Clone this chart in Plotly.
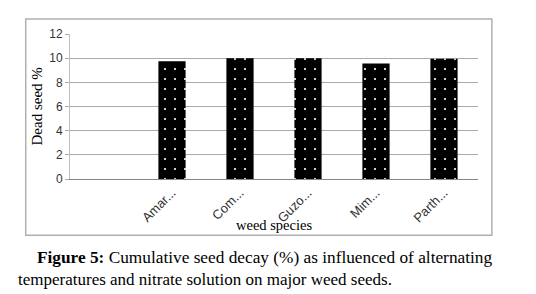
import plotly.graph_objects as go

categories = [" ", "Amar...", "Com...", "Guzo...", "Mim...", "Parth..."]
dead_seed = [None, 9.75, 10.0, 10.0, 9.55, 9.95]
y_ticks = [0, 2, 4, 6, 8, 10, 12]

fig = go.Figure()
fig.add_trace(go.Bar(
    x=categories, y=dead_seed,
    marker=dict(color="black", line=dict(width=0),
                pattern=dict(shape=".", fgcolor="white", bgcolor="black",
                             size=10, solidity=0.035, fillmode="replace")),
    width=0.4,
))

# The page body has an 8px margin, so the figure is drawn 8px smaller.
fig.update_layout(
    width=528, height=286,
    margin=dict(l=62, r=58, t=26, b=115),
    paper_bgcolor="white", plot_bgcolor="white",
    showlegend=False,
    xaxis=dict(type="category", tickangle=-45, showgrid=False,
               showline=True, linecolor="#868686", linewidth=1,
               ticks="", tickfont=dict(family="Liberation Sans", size=13, color="#333333")),
    yaxis=dict(range=[0, 12], tickvals=y_ticks, showgrid=True, gridcolor="#ababab",
               gridwidth=1, zeroline=False, showline=True, linecolor="#c0c0c0",
               ticks="outside", ticklen=4, tickcolor="#ababab",
               tickfont=dict(family="Liberation Sans", size=12, color="#333333")),
    shapes=[dict(type="rect", xref="paper", yref="paper",
                 x0=-0.1085, x1=1.034, y0=-0.388, y1=1.103,
                 line=dict(color="#b0b0b0", width=1.5), fillcolor="rgba(0,0,0,0)", layer="below")],
    annotations=[
        dict(text="Dead seed %", xref="paper", yref="paper", x=-0.0809, y=0.5,
             textangle=-90, showarrow=False, xanchor="center", yanchor="middle",
             font=dict(family="Liberation Serif", size=15, color="black")),
        dict(text="weed species", xref="paper", yref="paper", x=0.5, y=-0.317,
             showarrow=False, xanchor="center", yanchor="middle",
             font=dict(family="Liberation Serif", size=14.5, color="black")),
        dict(text="<b>Figure 5:</b> Cumulative seed decay (%) as influenced of alternating",
             xref="paper", yref="paper", x=-0.0858, y=-0.538, showarrow=False,
             xanchor="left", yanchor="middle",
             font=dict(family="Liberation Serif", size=17.3, color="black")),
        dict(text="temperatures and nitrate solution on major weed seeds.",
             xref="paper", yref="paper", x=-0.1324, y=-0.690, showarrow=False,
             xanchor="left", yanchor="middle",
             font=dict(family="Liberation Serif", size=17, color="black")),
    ],
)

fig.write_html("out.html")
